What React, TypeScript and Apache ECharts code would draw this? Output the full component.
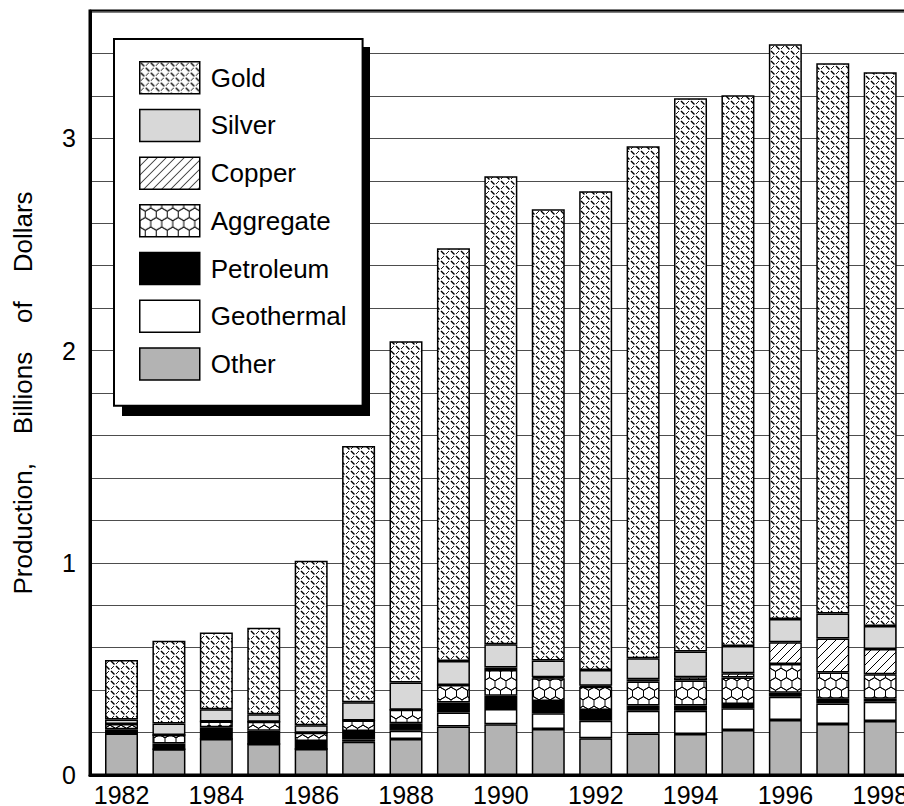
import React, { useEffect, useRef } from 'react';
import * as echarts from 'echarts';

const years = [1982, 1983, 1984, 1985, 1986, 1987, 1988, 1989, 1990, 1991, 1992, 1993, 1994, 1995, 1996, 1997, 1998];
const labelYears = [1982, 1984, 1986, 1988, 1990, 1992, 1994, 1996, 1998];
const yLabels = [0, 1, 2, 3];

const other = [0.196, 0.121, 0.170, 0.146, 0.122, 0.157, 0.170, 0.228, 0.239, 0.217, 0.173, 0.196, 0.193, 0.212, 0.259, 0.240, 0.254];
const geothermal = [0, 0, 0, 0, 0, 0.010, 0.039, 0.067, 0.072, 0.074, 0.083, 0.107, 0.110, 0.102, 0.110, 0.097, 0.091];
const petroleum = [0.020, 0.028, 0.055, 0.063, 0.038, 0.040, 0.035, 0.047, 0.063, 0.058, 0.050, 0.024, 0.024, 0.020, 0.019, 0.022, 0.014];
const aggregate = [0.024, 0.039, 0.027, 0.042, 0.039, 0.050, 0.063, 0.082, 0.121, 0.107, 0.110, 0.113, 0.118, 0.126, 0.135, 0.124, 0.116];
const copper = [0, 0, 0, 0, 0, 0, 0, 0, 0.011, 0.005, 0.005, 0.011, 0.016, 0.019, 0.102, 0.160, 0.119];
const silver = [0.022, 0.055, 0.058, 0.035, 0.036, 0.086, 0.129, 0.113, 0.110, 0.078, 0.074, 0.099, 0.121, 0.129, 0.110, 0.118, 0.108];
const gold = [0.280, 0.390, 0.362, 0.408, 0.775, 1.207, 1.608, 1.945, 2.205, 2.127, 2.256, 2.413, 2.607, 2.595, 2.708, 2.593, 2.609];

const legendOrder = ['Gold', 'Silver', 'Copper', 'Aggregate', 'Petroleum', 'Geothermal', 'Other'];
const FONT = '"Liberation Sans", Arial, Helvetica, sans-serif';
const GAP = '\u00a0\u00a0\u00a0\u00a0';

function makeTile(w: number, h: number, draw: (ctx: CanvasRenderingContext2D) => void) {
  const c = document.createElement('canvas');
  c.width = w;
  c.height = h;
  const ctx = c.getContext('2d')!;
  ctx.fillStyle = '#fff';
  ctx.fillRect(0, 0, w, h);
  ctx.strokeStyle = '#000';
  ctx.lineCap = 'butt';
  draw(ctx);
  return c;
}

function seg(ctx: CanvasRenderingContext2D, x1: number, y1: number, x2: number, y2: number, lw: number) {
  ctx.lineWidth = lw;
  ctx.beginPath();
  ctx.moveTo(x1, y1);
  ctx.lineTo(x2, y2);
  ctx.stroke();
}

export default function App() {
  const ref = useRef<HTMLDivElement>(null);
  useEffect(() => {
    if (!ref.current) return;
    const chart = echarts.init(ref.current, null, { renderer: 'svg' });

    const goldTile = makeTile(10, 10, (ctx) => {
      seg(ctx, 1, 1, 4.5, 4.5, 1.4);
      seg(ctx, 6, 6, 9.5, 9.5, 1.4);
      seg(ctx, 6, 4, 9, 1, 0.9);
      seg(ctx, 1, 9, 4, 6, 0.9);
    });
    const copperTile = makeTile(9, 9, (ctx) => {
      seg(ctx, -1, 10, 10, -1, 1);
      seg(ctx, -1, 1, 1, -1, 1);
      seg(ctx, 8, 10, 10, 8, 1);
    });
    const aggTile = makeTile(11, 19, (ctx) => {
      const r = 19 / 3;
      const hw = 5.5;
      const hex = (cx: number, cy: number) => {
        ctx.lineWidth = 1;
        ctx.beginPath();
        ctx.moveTo(cx, cy - r);
        ctx.lineTo(cx + hw, cy - r / 2);
        ctx.lineTo(cx + hw, cy + r / 2);
        ctx.lineTo(cx, cy + r);
        ctx.lineTo(cx - hw, cy + r / 2);
        ctx.lineTo(cx - hw, cy - r / 2);
        ctx.closePath();
        ctx.stroke();
      };
      hex(5.5, 0);
      hex(5.5, 19);
      hex(0, 9.5);
      hex(11, 9.5);
    });

    const fills: Record<string, any> = {
      Gold: { image: goldTile, repeat: 'repeat' },
      Silver: '#d8d8d8',
      Copper: { image: copperTile, repeat: 'repeat' },
      Aggregate: { image: aggTile, repeat: 'repeat' },
      Petroleum: '#000000',
      Geothermal: '#ffffff',
      Other: '#b3b3b3',
    };

    const mk = (name: string, data: number[]) => ({
      name,
      type: 'bar',
      stack: 'total',
      barWidth: 33,
      silent: true,
      xAxisIndex: 1,
      yAxisIndex: 1,
      data,
      itemStyle: { color: fills[name], borderColor: '#000', borderWidth: 1.5 },
      emphasis: { disabled: true },
    });

    chart.setOption({
      animation: false,
      backgroundColor: '#fff',
      textStyle: { fontFamily: FONT },
      grid: [
        {
          left: 90,
          top: 11,
          width: 833,
          height: 764,
          show: true,
          borderColor: '#000',
          borderWidth: 3,
          backgroundColor: 'transparent',
          outerBoundsMode: 'none',
          containLabel: false,
        },
        {
          left: 97.8,
          top: 11,
          width: 806.1,
          height: 764,
          show: false,
          outerBoundsMode: 'none',
          containLabel: false,
        },
      ],
      xAxis: [
        {
          type: 'value',
          gridIndex: 0,
          min: 1981.335,
          max: 1998.9,
          axisLine: { show: true, lineStyle: { color: '#000', width: 3 } },
          axisTick: { show: false },
          splitLine: { show: false },
          axisLabel: {
            customValues: labelYears,
            fontSize: 25,
            lineHeight: 20,
            color: '#000',
            margin: 10,
            fontFamily: FONT,
            formatter: (v: number) => String(v),
          },
        },
        {
          type: 'category',
          gridIndex: 1,
          data: years.map(String),
          boundaryGap: true,
          show: false,
        },
      ],
      yAxis: [
        {
          type: 'value',
          gridIndex: 0,
          min: 0,
          max: 3.6,
          interval: 0.2,
          axisLine: { show: true, lineStyle: { color: '#000', width: 3 } },
          axisTick: { show: false },
          splitLine: { show: true, lineStyle: { color: '#4d4d4d', width: 1 } },
          axisLabel: {
            fontSize: 25,
            color: '#000',
            margin: 14,
            fontFamily: FONT,
            formatter: (v: number) => {
              const r = Math.round(v);
              return Math.abs(v - r) < 1e-6 && yLabels.indexOf(r) >= 0 ? String(r) : '';
            },
          },
          name: 'Production,' + GAP + 'Billions' + GAP + 'of' + GAP + 'Dollars',
          nameLocation: 'middle',
          nameGap: 54,
          nameTextStyle: { fontSize: 26, color: '#000', fontFamily: FONT },
        },
        {
          type: 'value',
          gridIndex: 1,
          min: 0,
          max: 3.6,
          show: false,
          splitLine: { show: false },
        },
      ],
      legend: {
        orient: 'vertical',
        left: 114,
        top: 39,
        padding: [22, 16, 25, 25],
        itemWidth: 60,
        itemHeight: 32,
        itemGap: 14.2,
        icon: 'rect',
        backgroundColor: '#fff',
        borderColor: '#000',
        borderWidth: 2,
        selectedMode: false,
        z: 5,
        textStyle: { fontSize: 26, lineHeight: 26, color: '#000', fontFamily: FONT, padding: [0, 0, 0, 6] },
        itemStyle: { borderColor: '#000', borderWidth: 1.5 },
        data: legendOrder,
      },
      graphic: [
        {
          type: 'rect',
          z: 3,
          silent: true,
          shape: { x: 122, y: 47, width: 248, height: 369 },
          style: { fill: '#000' },
        },
      ],
      series: [
        mk('Other', other),
        mk('Geothermal', geothermal),
        mk('Petroleum', petroleum),
        mk('Aggregate', aggregate),
        mk('Copper', copper),
        mk('Silver', silver),
        mk('Gold', gold),
      ],
    });
    return () => chart.dispose();
  }, []);
  return <div ref={ref} style={{ position: 'fixed', left: 0, top: 0, width: 904, height: 806 }} />;
}
